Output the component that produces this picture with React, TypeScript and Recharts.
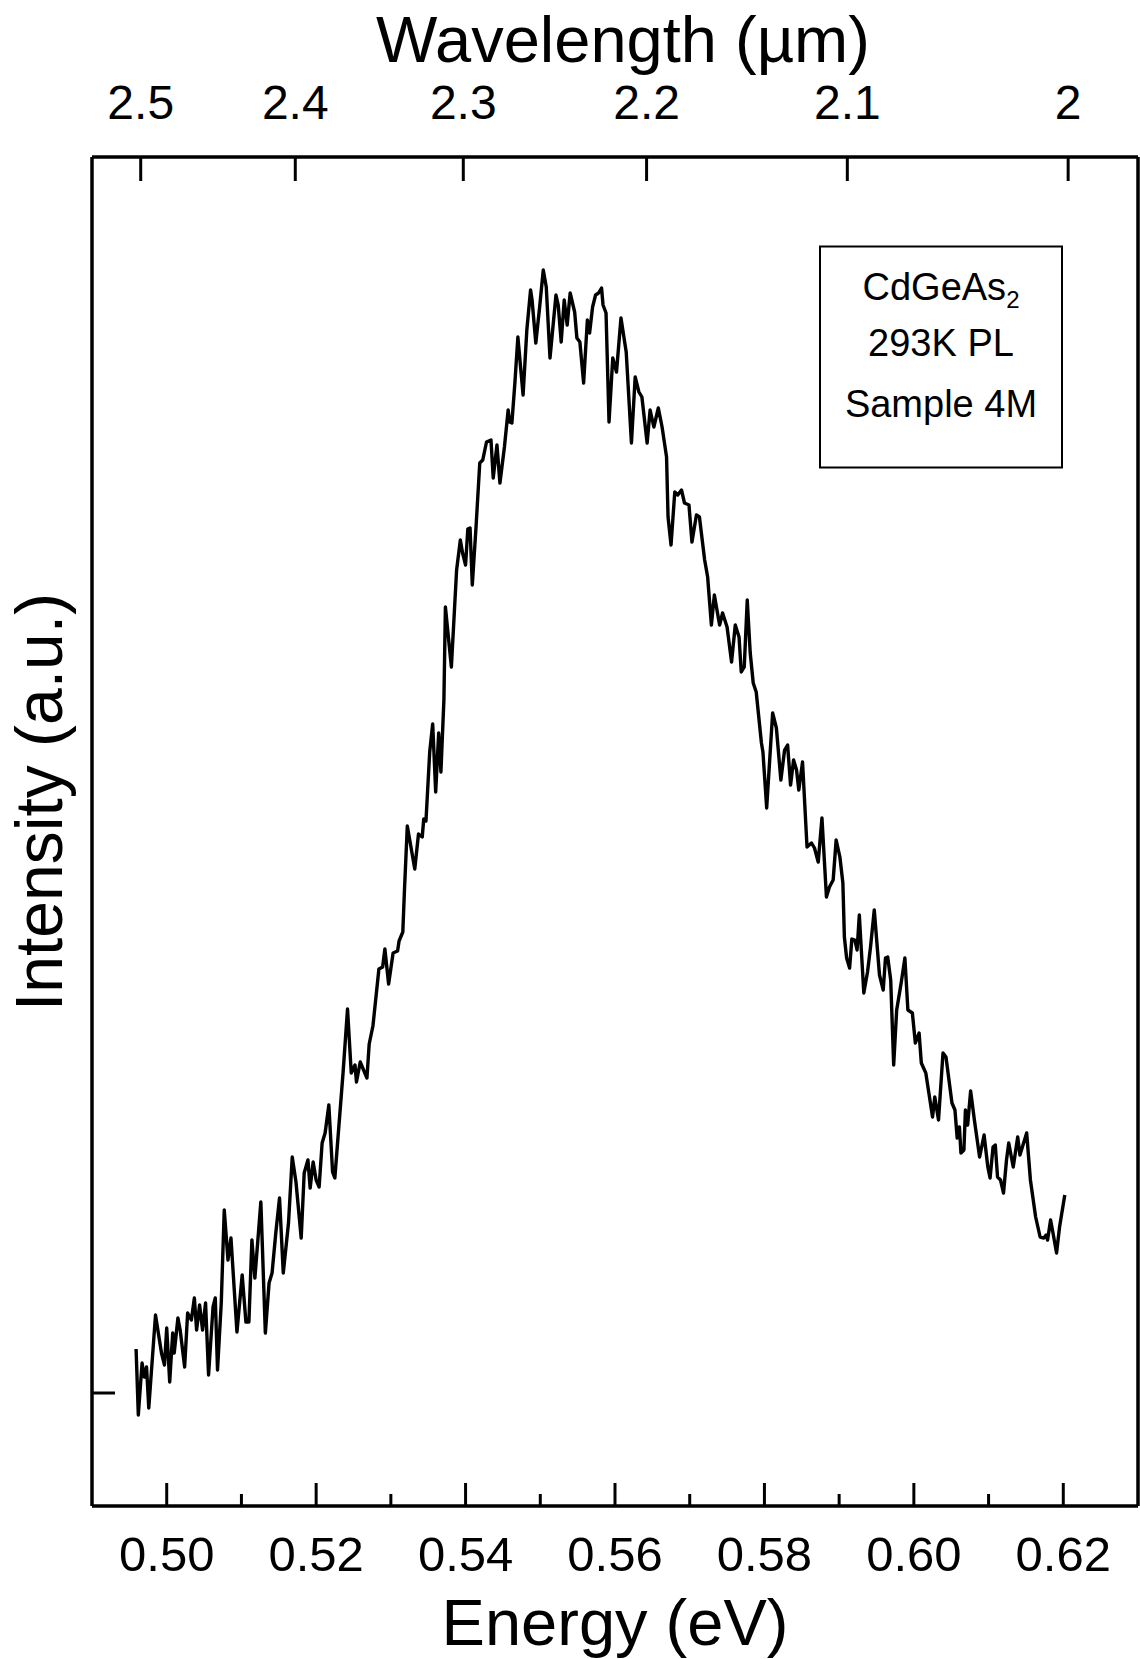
import { LineChart, Line, XAxis, YAxis } from "recharts";

// photon energy (eV) and PL intensity (a.u., 0 at the left tick)
const ENERGY = [
  0.4959, 0.4962, 0.4967, 0.497, 0.4973, 0.4976, 0.4985, 0.4993, 0.4997, 0.5,
  0.5004, 0.5008, 0.501, 0.5015, 0.5018, 0.5024, 0.5028, 0.5033, 0.5037, 0.504,
  0.5044, 0.5048, 0.5052, 0.5056, 0.5062, 0.5065, 0.5068, 0.5073, 0.5077, 0.5082,
  0.5086, 0.5094, 0.5101, 0.5106, 0.511, 0.5114, 0.5118, 0.5126, 0.5132, 0.5137,
  0.5141, 0.5146, 0.5151, 0.5156, 0.5163, 0.5168, 0.5173, 0.518, 0.5184, 0.5189,
  0.5192, 0.5196, 0.52, 0.5204, 0.5208, 0.5212, 0.5217, 0.5222, 0.5225, 0.5236,
  0.5242, 0.5247, 0.5252, 0.5254, 0.5259, 0.5268, 0.5271, 0.5276, 0.5284, 0.5289,
  0.5292, 0.5297, 0.5303, 0.5309, 0.5311, 0.5316, 0.5318, 0.5322, 0.5332, 0.5337,
  0.5342, 0.5344, 0.5347, 0.5352, 0.5356, 0.536, 0.5364, 0.5367, 0.5371, 0.5373,
  0.5381, 0.5388, 0.5393, 0.5396, 0.54, 0.5403, 0.5406, 0.5409, 0.5414, 0.5419,
  0.5423, 0.5428, 0.5434, 0.5437, 0.5442, 0.5446, 0.5452, 0.5457, 0.5459, 0.5462,
  0.5466, 0.547, 0.5477, 0.5482, 0.5487, 0.5489, 0.5494, 0.5499, 0.5504, 0.5508,
  0.5513, 0.5521, 0.5524, 0.5528, 0.5532, 0.5536, 0.554, 0.5546, 0.5549, 0.5553,
  0.5558, 0.5563, 0.5566, 0.557, 0.5574, 0.5578, 0.5582, 0.5584, 0.5588, 0.5592,
  0.5597, 0.5602, 0.5608, 0.5615, 0.5622, 0.5627, 0.5632, 0.5636, 0.5643, 0.5647,
  0.5652, 0.5658, 0.5663, 0.5669, 0.5671, 0.5675, 0.568, 0.5684, 0.5689, 0.5693,
  0.5699, 0.5703, 0.5709, 0.5713, 0.572, 0.5724, 0.5729, 0.5733, 0.574, 0.5744,
  0.575, 0.5756, 0.5761, 0.5766, 0.5769, 0.5773, 0.5777, 0.5781, 0.5785, 0.5789,
  0.5796, 0.5798, 0.5803, 0.5811, 0.5816, 0.5822, 0.5827, 0.5831, 0.5835, 0.5839,
  0.5843, 0.5846, 0.5851, 0.5857, 0.5863, 0.5867, 0.5872, 0.5877, 0.5883, 0.5887,
  0.5892, 0.5896, 0.5901, 0.5905, 0.5907, 0.591, 0.5914, 0.5917, 0.5921, 0.5924,
  0.5927, 0.5933, 0.5938, 0.5942, 0.5947, 0.5954, 0.5959, 0.5962, 0.5965, 0.5969,
  0.5973, 0.5977, 0.5983, 0.5988, 0.5992, 0.5998, 0.6002, 0.6007, 0.601, 0.6016,
  0.6025, 0.6028, 0.6033, 0.6039, 0.6043, 0.6051, 0.6055, 0.6058, 0.6061, 0.6063,
  0.6067, 0.6069, 0.6072, 0.6076, 0.6081, 0.6088, 0.6094, 0.6099, 0.6102, 0.6106,
  0.6109, 0.6112, 0.6116, 0.612, 0.6124, 0.6127, 0.6133, 0.6139, 0.6142, 0.6151,
  0.6156, 0.6163, 0.6169, 0.6174, 0.6177, 0.6179, 0.6183, 0.6186, 0.6191, 0.6195,
  0.6202,
];

const INTENSITY = [
  4.4, -2.2, 3.0, 1.6, 2.6, -1.5, 7.8, 4.0, 2.8, 6.5,
  1.1, 6.0, 4.0, 7.5, 6.3, 2.6, 8.0, 7.3, 9.5, 6.3,
  8.8, 6.3, 9.0, 1.8, 8.6, 9.5, 2.3, 9.0, 18.3, 13.3,
  15.5, 6.1, 11.8, 7.1, 7.1, 15.3, 11.5, 19.1, 6.0, 11.0,
  12.0, 16.0, 19.5, 12.0, 17.0, 23.6, 21.1, 15.5, 22.0, 23.3,
  20.5, 23.1, 21.3, 20.6, 25.0, 26.0, 28.8, 22.1, 21.5, 32.0,
  38.4, 32.0, 32.8, 31.1, 33.1, 31.5, 34.9, 36.7, 42.4, 42.6,
  44.4, 40.9, 44.0, 44.2, 45.2, 46.1, 49.9, 56.7, 52.4, 55.9,
  55.6, 57.4, 57.2, 64.1, 66.9, 60.1, 66.0, 62.1, 69.3, 78.6,
  72.6, 82.3, 85.3, 84.0, 82.8, 86.4, 86.5, 80.8, 86.6, 93.0,
  93.3, 95.1, 95.3, 91.5, 94.8, 91.0, 94.6, 98.3, 97.1, 97.0,
  101.0, 105.6, 99.8, 106.3, 110.3, 109.3, 105.0, 108.5, 112.3, 110.6,
  103.5, 109.8, 108.8, 105.1, 109.3, 106.8, 110.0, 108.1, 105.5, 105.1,
  101.0, 107.3, 106.0, 108.6, 109.8, 110.0, 110.5, 108.8, 108.0, 97.1,
  103.5, 102.1, 107.5, 104.1, 95.0, 101.6, 100.1, 99.6, 95.0, 98.3,
  96.6, 98.5, 96.6, 93.6, 87.6, 84.8, 90.1, 89.8, 90.3, 89.0,
  88.8, 85.1, 87.8, 87.6, 83.3, 81.6, 76.8, 79.8, 76.8, 78.0,
  76.6, 73.1, 76.8, 75.6, 72.1, 72.6, 79.3, 74.0, 71.0, 70.1,
  65.0, 64.1, 58.5, 68.0, 66.5, 61.3, 64.3, 64.8, 60.8, 63.3,
  62.3, 60.3, 63.1, 54.6, 55.0, 54.5, 53.1, 57.5, 49.6, 50.6,
  51.3, 55.3, 53.6, 51.0, 45.6, 43.5, 42.5, 45.4, 45.3, 44.3,
  47.8, 40.0, 42.1, 44.6, 48.3, 41.8, 40.3, 43.5, 43.6, 41.3,
  32.8, 38.3, 41.0, 43.5, 38.3, 38.0, 35.0, 36.0, 33.0, 32.0,
  27.6, 29.6, 27.3, 34.0, 33.6, 29.0, 28.3, 25.5, 26.6, 24.0,
  24.3, 28.3, 26.8, 30.2, 27.3, 23.6, 25.8, 22.6, 21.5, 24.6,
  24.8, 21.6, 21.3, 20.0, 23.3, 25.0, 22.6, 25.6, 23.8, 26.0,
  21.3, 17.6, 15.6, 15.5, 15.8, 15.3, 17.3, 16.1, 14.0, 16.6,
  19.8,
];

const MAJOR_TICKS = [0.5, 0.52, 0.54, 0.56, 0.58, 0.6, 0.62];
const MINOR_TICKS = [0.51, 0.53, 0.55, 0.57, 0.59, 0.61];

const WAVELENGTHS = [2.5, 2.4, 2.3, 2.2, 2.1, 2.0];
const WAVELENGTH_LABELS = ["2.5", "2.4", "2.3", "2.2", "2.1", "2"];
const HC = 1.2413; // eV·µm, as the top axis in the figure is laid out

const data = ENERGY.map((e, i) => ({ energy: e, intensity: INTENSITY[i] }));
const bottomTicks = [...MAJOR_TICKS, ...MINOR_TICKS].sort((a, b) => a - b);
const topTicks = WAVELENGTHS.map((l) => HC / l);

const FONT = '"Liberation Sans", Arial, Helvetica, sans-serif';

function BottomTick(props: any) {
  const { x, y, payload } = props;
  const v = payload.value as number;
  const major = MAJOR_TICKS.some((m) => Math.abs(m - v) < 1e-6);
  return (
    <g>
      <line x1={x} x2={x} y1={y} y2={y - (major ? 23 : 12)} stroke="#000" strokeWidth={3} />
      {major && (
        <text x={x} y={y + 65} textAnchor="middle" fontSize={49} fontFamily={FONT} fill="#000">
          {v.toFixed(2)}
        </text>
      )}
    </g>
  );
}

function TopTick(props: any) {
  const { x, y, payload } = props;
  const v = payload.value as number;
  let idx = 0;
  topTicks.forEach((t, i) => {
    if (Math.abs(t - v) < Math.abs(topTicks[idx] - v)) idx = i;
  });
  return (
    <g>
      <line x1={x} x2={x} y1={y} y2={y + 24} stroke="#000" strokeWidth={3} />
      <text x={x} y={y - 38} textAnchor="middle" fontSize={48} fontFamily={FONT} fill="#000">
        {WAVELENGTH_LABELS[idx]}
      </text>
    </g>
  );
}

function LeftTick(props: any) {
  const { x, y } = props;
  return <line x1={x} x2={x + 23} y1={y} y2={y} stroke="#000" strokeWidth={3} />;
}

export default function App() {
  return (
    <div style={{ position: "absolute", left: 0, top: 0, width: 1140, height: 1659, background: "#fff" }}>
      <LineChart width={1140} height={1659} data={data} margin={{ top: 0, right: 0, bottom: 0, left: 0 }}>
        <XAxis
          xAxisId="bottom"
          dataKey="energy"
          type="number"
          domain={[0.49, 0.63]}
          allowDataOverflow
          ticks={bottomTicks}
          interval={0}
          height={153}
          tickSize={0}
          tickMargin={0}
          tickLine={false}
          tick={<BottomTick />}
          axisLine={{ stroke: "#000", strokeWidth: 3.5 }}
        />
        <XAxis
          xAxisId="top"
          orientation="top"
          dataKey="energy"
          type="number"
          domain={[0.49, 0.63]}
          allowDataOverflow
          ticks={topTicks}
          interval={0}
          height={157}
          tickSize={0}
          tickMargin={0}
          tickLine={false}
          tick={<TopTick />}
          axisLine={{ stroke: "#000", strokeWidth: 3.5 }}
        />
        <YAxis
          yAxisId="left"
          type="number"
          domain={[-11.3, 123.6]}
          allowDataOverflow
          ticks={[0]}
          width={92}
          tickSize={0}
          tickMargin={0}
          tickLine={false}
          tick={<LeftTick />}
          axisLine={{ stroke: "#000", strokeWidth: 3.5 }}
        />
        <YAxis
          yAxisId="right"
          orientation="right"
          type="number"
          domain={[-11.3, 123.6]}
          width={2}
          tick={false}
          tickLine={false}
          axisLine={{ stroke: "#000", strokeWidth: 3.5 }}
        />
        <Line
          xAxisId="bottom"
          yAxisId="left"
          type="linear"
          dataKey="intensity"
          stroke="#000"
          strokeWidth={3.4}
          strokeLinejoin="round"
          dot={false}
          activeDot={false}
          isAnimationActive={false}
        />
      </LineChart>
      <svg
        width={1140}
        height={1659}
        style={{ position: "absolute", left: 0, top: 0, pointerEvents: "none" }}
        fontFamily={FONT}
      >
        <text x={623} y={62} textAnchor="middle" fontSize={65} fill="#000">
          Wavelength (µm)
        </text>
        <text x={615} y={1645} textAnchor="middle" fontSize={65} fill="#000">
          Energy (eV)
        </text>
        <text
          x={0}
          y={0}
          transform="translate(62 802) rotate(-90)"
          textAnchor="middle"
          fontSize={66}
          fill="#000"
        >
          Intensity (a.u.)
        </text>
        <rect x={820} y={246.5} width={242} height={221} fill="none" stroke="#000" strokeWidth={2} />
        <text x={941} y={300} textAnchor="middle" fontSize={38} fill="#000">
          CdGeAs
          <tspan fontSize={24} dy={8}>2</tspan>
        </text>
        <text x={941} y={356} textAnchor="middle" fontSize={38} fill="#000">
          293K PL
        </text>
        <text x={941} y={417} textAnchor="middle" fontSize={38} fill="#000">
          Sample 4M
        </text>
      </svg>
    </div>
  );
}
